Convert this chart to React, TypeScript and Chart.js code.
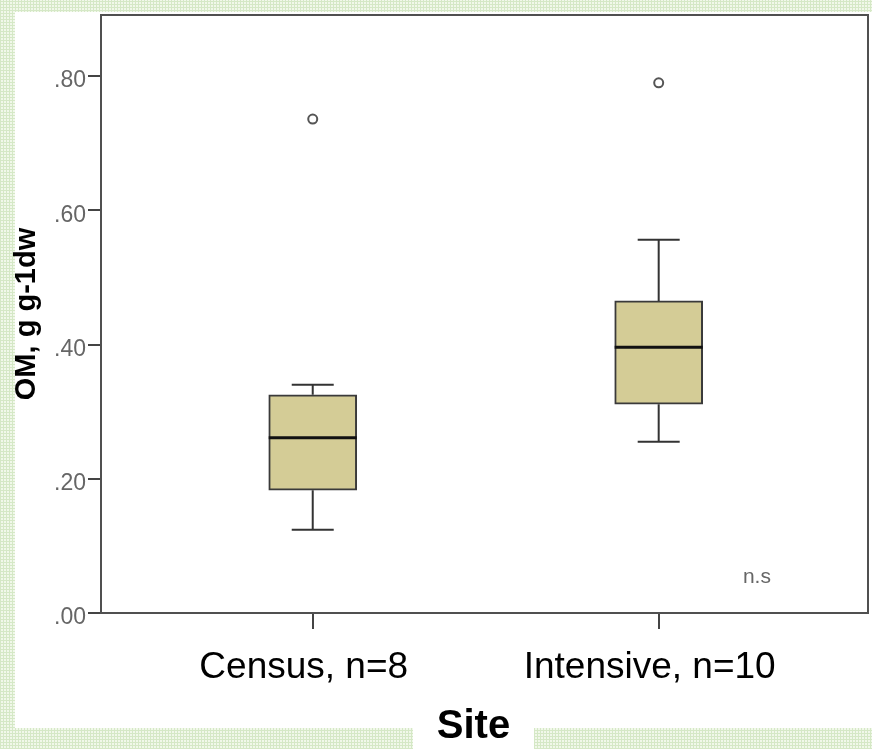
import React, { useEffect, useRef } from "react";
import { Chart, registerables } from "chart.js";

Chart.register(...registerables);

// ---- data ----
const categories = ["Census, n=8", "Intensive, n=10"];
const positions = [1, 2];
const whiskerLow = [0.124, 0.255];
const q1 = [0.183, 0.311];
const median = [0.261, 0.396];
const q3 = [0.325, 0.465];
const whiskerHigh = [0.34, 0.556];
const outliers = [0.736, 0.79];
const yTicks = [0, 0.2, 0.4, 0.6, 0.8];
const noteText = "n.s";
const notePosition = { x: 2.284, y: 0.054 };
const xTitle = "Site";
const yTitle = "OM, g g-1dw";

const FONT = "'Liberation Sans', Arial, Helvetica, sans-serif";

const framePlugin = {
  id: "frameAndNote",
  afterDatasetsDraw(chart: any) {
    const { ctx, chartArea, scales } = chart;
    ctx.save();
    ctx.strokeStyle = "#505050";
    ctx.lineWidth = 2;
    ctx.strokeRect(
      chartArea.left,
      chartArea.top,
      chartArea.right - chartArea.left,
      chartArea.bottom - chartArea.top
    );
    ctx.fillStyle = "#666";
    ctx.font = `21px ${FONT}`;
    ctx.textAlign = "center";
    ctx.textBaseline = "middle";
    ctx.fillText(
      noteText,
      scales.x.getPixelForValue(notePosition.x),
      scales.y.getPixelForValue(notePosition.y)
    );
    // x-axis title, centred on its white label box
    ctx.fillStyle = "#000";
    ctx.font = `bold 40px ${FONT}`;
    ctx.textBaseline = "alphabetic";
    ctx.fillText(xTitle, 473.5, 738);
    ctx.restore();
  },
};

export default function App() {
  const canvasRef = useRef<HTMLCanvasElement | null>(null);

  useEffect(() => {
    if (!canvasRef.current) return;

    const boxData = positions.map((p, i) => ({ x: p, y: [q1[i], q3[i]] }));
    const medianData = positions.map((p, i) => ({ x: p, y: median[i] }));
    const capData: any[] = [];
    const stemData: any[] = [];
    positions.forEach((p, i) => {
      capData.push({ x: p, y: whiskerLow[i] }, { x: p, y: whiskerHigh[i] });
      stemData.push(
        { x: p, y: q3[i] },
        { x: p, y: whiskerHigh[i] },
        { x: p, y: null },
        { x: p, y: q1[i] },
        { x: p, y: whiskerLow[i] },
        { x: p, y: null }
      );
    });
    const outlierData = positions.map((p, i) => ({ x: p, y: outliers[i] }));

    const chart = new Chart(canvasRef.current, {
      type: "bar",
      data: {
        datasets: [
          {
            type: "bar",
            data: boxData as any,
            backgroundColor: "#d4cc96",
            borderColor: "#3a3a3a",
            borderWidth: 2,
            borderSkipped: false,
            barThickness: 88,
            order: 5,
          } as any,
          {
            type: "line",
            data: stemData,
            borderColor: "#333",
            borderWidth: 2,
            pointRadius: 0,
            spanGaps: false,
            fill: false,
            order: 4,
          } as any,
          {
            type: "scatter",
            data: capData,
            pointStyle: "line",
            pointRadius: 21,
            borderColor: "#333",
            borderWidth: 2,
            order: 3,
          } as any,
          {
            type: "scatter",
            data: medianData,
            pointStyle: "line",
            pointRadius: 44,
            borderColor: "#111",
            borderWidth: 3,
            order: 1,
          } as any,
          {
            type: "scatter",
            data: outlierData,
            pointStyle: "circle",
            pointRadius: 4.5,
            borderColor: "#555",
            backgroundColor: "#fff",
            borderWidth: 2,
            order: 2,
          } as any,
        ],
      },
      options: {
        animation: false,
        responsive: false,
        events: [],
        layout: { autoPadding: false, padding: { left: 0, top: 15, right: 4, bottom: 0 } },
        plugins: {
          legend: { display: false },
          tooltip: { enabled: false },
        },
        scales: {
          x: {
            type: "linear",
            offset: false,
            min: 0.388,
            max: 2.605,
            afterBuildTicks: (scale: any) => {
              scale.ticks = positions.map((v) => ({ value: v }));
            },
            afterFit: (scale: any) => {
              scale.height = 136;
              scale.paddingLeft = 0;
              scale.paddingRight = 0;
            },
            ticks: {
              color: "#000",
              font: { family: FONT, size: 37 },
              padding: 17,
              labelOffset: -9,
              maxRotation: 0,
              autoSkip: false,
              callback: (v: any) => {
                const idx = positions.indexOf(Number(v));
                return idx >= 0 ? categories[idx] : "";
              },
            },
            grid: {
              display: true,
              offset: false,
              drawOnChartArea: false,
              drawTicks: true,
              tickLength: 16,
              color: "#444",
              lineWidth: 2,
            },
            border: { display: true, color: "#505050", width: 2 },
            title: { display: false },
          },
          y: {
            type: "linear",
            min: 0,
            max: 0.891,
            afterBuildTicks: (scale: any) => {
              scale.ticks = yTicks.map((v) => ({ value: v }));
            },
            afterFit: (scale: any) => {
              scale.width = 101;
              scale.paddingTop = 0;
              scale.paddingBottom = 0;
            },
            ticks: {
              color: "#666",
              font: { family: FONT, size: 23 },
              padding: 2,
              labelOffset: 5,
              callback: (v: any) => Number(v).toFixed(2).replace(/^0/, ""),
            },
            grid: {
              display: true,
              drawOnChartArea: false,
              drawTicks: true,
              tickLength: 13,
              color: "#444",
              lineWidth: 2,
            },
            border: { display: true, color: "#505050", width: 2 },
            title: {
              display: true,
              text: yTitle,
              color: "#000",
              font: { family: FONT, size: 29, weight: "bold" },
              padding: { top: 10, bottom: 0 },
            },
          },
        },
      } as any,
      plugins: [framePlugin],
    });

    return () => chart.destroy();
  }, []);

  const pattern =
    "repeating-linear-gradient(0deg, #d5e8c6 0px, #d5e8c6 1px, transparent 1px, transparent 3px)," +
    "repeating-linear-gradient(90deg, #d5e8c6 0px, #d5e8c6 1px, transparent 1px, transparent 3px)";

  return (
    <div
      style={{
        position: "fixed",
        left: 0,
        top: 0,
        width: 872,
        height: 749,
        backgroundColor: "#f1f8ea",
        backgroundImage: pattern,
        overflow: "hidden",
      }}
    >
      <div
        style={{
          position: "absolute",
          left: 15,
          top: 12,
          width: 857,
          height: 716,
          background: "#fff",
        }}
      />
      <div
        style={{
          position: "absolute",
          left: 413,
          top: 700,
          width: 121,
          height: 49,
          background: "#fff",
        }}
      />
      <canvas
        ref={canvasRef}
        width={872}
        height={749}
        style={{ position: "absolute", left: 0, top: 0, width: 872, height: 749 }}
      />
    </div>
  );
}
